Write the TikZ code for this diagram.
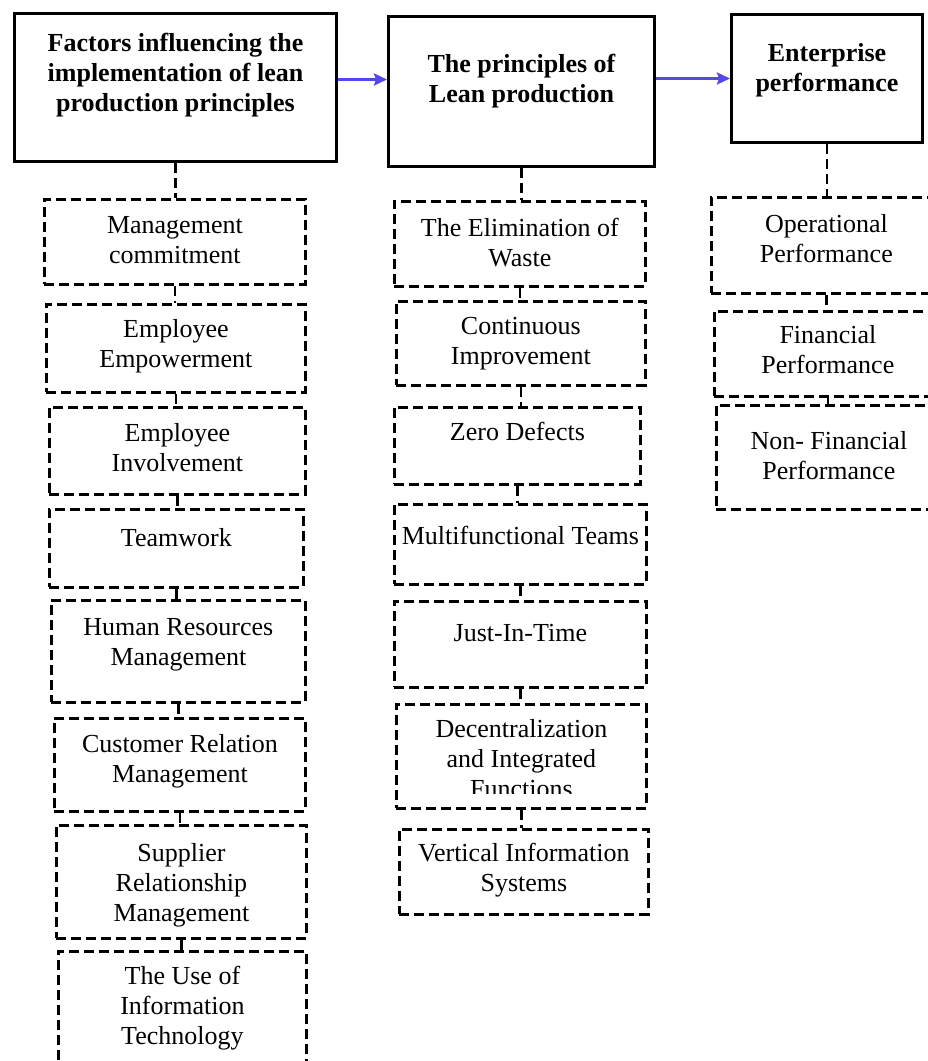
\documentclass[tikz,border=0pt]{standalone}
\usepackage{fontspec}
\setmainfont{Liberation Serif}
\usetikzlibrary{positioning,arrows.meta}
\definecolor{flowblue}{RGB}{84,72,236}

\begin{document}
\begin{tikzpicture}[x=1pt, y=-1pt,
	head/.style={draw, line width=3pt, anchor=north west, inner sep=0pt},
	sub/.style={draw, line width=2.8pt, dash pattern=on 10pt off 5pt, anchor=north west, inner sep=0pt},
	txt/.style={align=center, inner sep=0pt, font=\fontsize{26}{30}\selectfont},
	htxt/.style={align=center, inner sep=0pt, font=\fontsize{26}{30}\selectfont\bfseries},
	link/.style={line width=2.8pt, dash pattern=on 10pt off 5pt},
	flow/.style={flowblue, line width=3pt, -{Stealth[length=13pt, width=12pt, inset=2pt]}}]
				\useasboundingbox (0,0) rectangle (928,1061);

				% Factors
				\node[head, minimum width=322, minimum height=148] (fac) at (13,12) {};
				\node[htxt, below=21pt of fac.north] (fact) {Factors influencing the\\implementation of lean\\production principles};
				\node[sub, minimum width=261, minimum height=85] (mc) at (43,198) {};
				\node[txt, below=18pt of mc.north] (mct) {Management\\commitment};
				\node[sub, minimum width=259, minimum height=88] (ee) at (45,303) {};
				\node[txt, below=16pt of ee.north] (eet) {Employee\\Empowerment};
				\node[sub, minimum width=256, minimum height=87] (ei) at (48,406) {};
				\node[txt, below=17pt of ei.north] (eit) {Employee\\Involvement};
				\node[sub, minimum width=254, minimum height=78] (tw) at (48,508) {};
				\node[txt, below=20pt of tw.north] (twt) {Teamwork};
				\node[sub, minimum width=254, minimum height=102] (hrm) at (50,599) {};
				\node[txt, below=19pt of hrm.north] (hrmt) {Human Resources\\Management};
				\node[sub, minimum width=251, minimum height=93] (crm) at (53,717) {};
				\node[txt, below=17pt of crm.north] (crmt) {Customer Relation\\Management};
				\node[sub, minimum width=250, minimum height=113] (srm) at (55,824) {};
				\node[txt, below=19pt of srm.north] (srmt) {Supplier\\Relationship\\Management};
				\node[sub, minimum width=248, minimum height=125] (uit) at (57,950) {};
				\node[txt, below=16pt of uit.north] (uitt) {The Use of\\Information\\Technology};

				% Lean principles
				\node[head, minimum width=266, minimum height=150] (lp) at (387,15) {};
				\node[htxt, below=39pt of lp.north] (lpt) {The principles of\\Lean production};
				\node[sub, minimum width=251, minimum height=85] (ew) at (393,200) {};
				\node[txt, below=18pt of ew.north] (ewt) {The Elimination of\\Waste};
				\node[sub, minimum width=249, minimum height=84] (ci) at (395,300) {};
				\node[txt, below=17pt of ci.north] (cit) {Continuous\\Improvement};
				\node[sub, minimum width=246, minimum height=77] (zd) at (393,406) {};
				\node[txt, below=16pt of zd.north] (zdt) {Zero Defects};
				\node[sub, minimum width=252, minimum height=80] (mt) at (393,503) {};
				\node[txt, below=23pt of mt.north] (mtt) {Multifunctional Teams};
				\node[sub, minimum width=252, minimum height=86] (jit) at (393,600) {};
				\node[txt, below=24pt of jit.north] (jitt) {Just-In-Time};
				\node[sub, minimum width=250, minimum height=104] (dec) at (395,703) {};
				\begin{scope}
				\clip (dec.north west) rectangle ([yshift=16pt]dec.south east);
				\node[txt, below=16pt of dec.north] (dect) {Decentralization\\and Integrated\\Functions};
				\end{scope}
				\node[sub, minimum width=249, minimum height=85] (vis) at (398,828) {};
				\node[txt, below=15pt of vis.north] (vist) {Vertical Information\\Systems};

				% Performance
				\node[head, minimum width=191, minimum height=128] (ep) at (730,13) {};
				\node[htxt, below=30pt of ep.north] (ept) {Enterprise\\performance};
				\node[sub, minimum width=230, minimum height=96] (op) at (710,196) {};
				\node[txt, below=18pt of op.north] (opt) {Operational\\Performance};
				\node[sub, minimum width=227, minimum height=85] (fp) at (713,310) {};
				\node[txt, below=15pt of fp.north] (fpt) {Financial\\Performance};
				\node[sub, minimum width=225, minimum height=104] (nfp) at (715,404) {};
				\node[txt, below=27pt of nfp.north] (nfpt) {Non- Financial\\Performance};

				% Arrows
				\draw[flow] ([yshift=8pt]fac.east) -- ([yshift=8pt]fac.east -| lp.west);
				\draw[flow] (lp.east |- ep.west) -- (ep.west);

				% Links
				\draw[link] (fac.south) -- (fac.south |- mc.north);
				\draw[link] (mc.south) -- (mc.south |- ee.north);
				\draw[link] (ee.south) -- (ee.south |- ei.north);
				\draw[link] (ei.south) -- (ei.south |- tw.north);
				\draw[link] (tw.south) -- (tw.south |- hrm.north);
				\draw[link] (hrm.south) -- (hrm.south |- crm.north);
				\draw[link] (crm.south) -- (crm.south |- srm.north);
				\draw[link] (srm.south) -- (srm.south |- uit.north);
				\draw[link] (lp.south) -- (lp.south |- ew.north);
				\draw[link] (ew.south) -- (ew.south |- ci.north);
				\draw[link] (ci.south) -- (ci.south |- zd.north);
				\draw[link] (zd.south) -- (zd.south |- mt.north);
				\draw[link] (mt.south) -- (mt.south |- jit.north);
				\draw[link] (jit.south) -- (jit.south |- dec.north);
				\draw[link] (dec.south) -- (dec.south |- vis.north);
				\draw[link] (ep.south) -- (ep.south |- op.north);
				\draw[link] (op.south) -- (op.south |- fp.north);
				\draw[link] (fp.south) -- (fp.south |- nfp.north);
			\end{tikzpicture}
\end{document}
